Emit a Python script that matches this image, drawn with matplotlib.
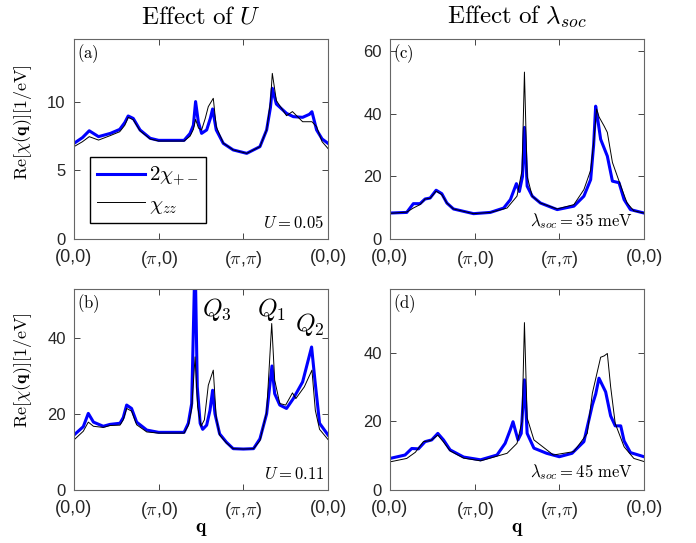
import matplotlib

matplotlib.use("Agg")

import matplotlib.pyplot as plt

plt.rcParams["mathtext.fontset"] = "cm"
plt.rcParams["font.family"] = ["Liberation Sans", "DejaVu Sans"]

# panel (a): U = 0.05
xa_pm = [0, 0.1, 0.18, 0.29, 0.43, 0.54, 0.60, 0.64, 0.70, 0.78, 0.90, 1.0, 1.15, 1.30, 1.37, 1.41,
         1.436, 1.468, 1.507, 1.567, 1.61, 1.637, 1.68, 1.763, 1.88, 2.04, 2.196, 2.275, 2.32, 2.342,
         2.39, 2.51, 2.59, 2.70, 2.78, 2.81, 2.865, 2.93, 3.0]
ya_pm = [6.98, 7.4, 7.9, 7.47, 7.71, 8.0, 8.5, 8.98, 8.8, 7.96, 7.35, 7.2, 7.2, 7.2, 7.7, 8.3,
         10.03, 8.56, 7.71, 7.96, 8.8, 9.49, 7.96, 6.98, 6.5, 6.25, 6.74, 7.96, 9.6, 11.0,
         9.85, 9.17, 8.93, 8.88, 9.1, 9.29, 7.96, 7.3, 6.98]
xa_zz = [0, 0.1, 0.18, 0.29, 0.43, 0.54, 0.60, 0.64, 0.70, 0.78, 0.90, 1.0, 1.3, 1.37, 1.41, 1.436,
         1.47, 1.507, 1.55, 1.586, 1.645, 1.68, 1.763, 1.88, 2.04, 2.196, 2.275, 2.32, 2.342, 2.39,
         2.51, 2.58, 2.70, 2.81, 2.865, 2.93, 3.0]
ya_zz = [6.74, 7.1, 7.47, 7.22, 7.55, 7.83, 8.3, 8.88, 8.7, 7.9, 7.3, 7.15, 7.15, 7.5, 8.0, 8.73,
         8.1, 7.96, 8.8, 9.66, 10.27, 8.2, 7.0, 6.5, 6.25, 6.74, 7.96, 10.0, 12.09, 10.1,
         9.0, 9.3, 8.56, 8.56, 8.2, 7.1, 6.6]

# panel (b): U = 0.11
xb_pm = [0, 0.11, 0.169, 0.23, 0.346, 0.425, 0.543, 0.582, 0.622, 0.68, 0.74, 0.86, 1.0, 1.3, 1.35,
         1.39, 1.43, 1.456, 1.49, 1.52, 1.567, 1.606, 1.637, 1.665, 1.72, 1.80, 1.88, 2.0, 2.12,
         2.196, 2.275, 2.338, 2.37, 2.43, 2.51, 2.59, 2.70, 2.806, 2.845, 2.90, 3.0]
yb_pm = [14.5, 16.7, 20.2, 17.9, 16.8, 17.3, 17.6, 19.1, 22.4, 21.5, 17.9, 15.8, 15.2, 15.2, 17.6,
         22.8, 62, 27.2, 17.6, 16.0, 17.1, 21.0, 26.3, 20.1, 14.8, 12.6, 10.9, 10.8, 10.9,
         13.5, 20.1, 32.7, 25.4, 22.4, 21.5, 24.1, 28.5, 37.7, 29.0, 17.6, 14.5]
xb_zz = [0, 0.11, 0.169, 0.23, 0.346, 0.425, 0.543, 0.582, 0.622, 0.68, 0.74, 0.86, 1.0, 1.3, 1.35,
         1.39, 1.43, 1.46, 1.50, 1.54, 1.586, 1.645, 1.68, 1.72, 1.80, 1.88, 2.0, 2.12, 2.196,
         2.275, 2.335, 2.37, 2.43, 2.50, 2.58, 2.62, 2.72, 2.81, 2.85, 2.90, 3.0]
yb_zz = [13.2, 15.5, 17.9, 16.8, 16.5, 17.0, 17.1, 18.5, 21.5, 20.8, 17.2, 15.3, 15.0, 15.0, 17.0,
         21.5, 35.1, 22.0, 16.8, 18.5, 27.6, 31.6, 19.0, 14.5, 12.4, 10.9, 10.8, 10.9, 13.0,
         20.5, 43.9, 29.0, 22.8, 22.4, 25.6, 24.1, 27.2, 31.6, 21.0, 16.0, 13.3]

# panel (c): lambda_soc = 35 meV
xc_pm = [0, 0.198, 0.276, 0.355, 0.415, 0.474, 0.545, 0.612, 0.672, 0.75, 0.987, 1.185, 1.343,
         1.422, 1.493, 1.528, 1.565, 1.588, 1.62, 1.68, 1.777, 1.975, 2.172, 2.29, 2.37, 2.405,
         2.429, 2.455, 2.488, 2.567, 2.627, 2.705, 2.765, 2.84, 3.0]
yc_pm = [8.3, 8.5, 11.3, 11.3, 12.8, 13.1, 15.6, 14.5, 11.5, 9.6, 8.1, 8.5, 9.9,
         12.6, 17.7, 15.2, 20.0, 35.7, 16.9, 13.7, 11.5, 9.4, 10.5, 13.7, 19.0, 30.0,
         42.5, 38.0, 31.9, 26.5, 18.5, 18.0, 12.6, 9.4, 8.3]
xc_zz = [0, 0.198, 0.276, 0.355, 0.415, 0.474, 0.545, 0.612, 0.672, 0.75, 0.987, 1.185, 1.383,
         1.5, 1.56, 1.588, 1.62, 1.68, 1.777, 1.975, 2.172, 2.29, 2.37, 2.41, 2.44, 2.47, 2.528,
         2.567, 2.627, 2.725, 2.80, 2.88, 3.0]
yc_zz = [8.2, 8.6, 9.9, 11.0, 12.8, 13.0, 15.3, 14.2, 11.5, 9.6, 8.1, 8.5, 9.9,
         13.7, 22.0, 53.4, 20.0, 13.7, 11.5, 9.6, 11.0, 15.8, 22.0, 32.0, 41.6, 39.0, 36.2,
         34.1, 24.5, 17.0, 11.5, 9.0, 8.3]

# panel (d): lambda_soc = 45 meV
xd_pm = [0, 0.178, 0.257, 0.336, 0.415, 0.493, 0.565, 0.632, 0.71, 0.87, 1.07, 1.264, 1.36, 1.42,
         1.453, 1.485, 1.512, 1.55, 1.588, 1.62, 1.7, 1.85, 2.0, 2.15, 2.29, 2.39, 2.43, 2.468,
         2.547, 2.606, 2.66, 2.725, 2.765, 2.84, 3.0]
yd_pm = [9.2, 10.2, 12.1, 12.0, 14.1, 14.6, 16.5, 14.6, 11.7, 9.6, 8.8, 10.2, 13.6, 17.5,
         19.9, 17.0, 14.6, 16.5, 32.1, 16.5, 12.2, 10.7, 9.7, 10.7, 14.1, 24.8, 28.0, 32.6,
         28.6, 21.6, 18.7, 18.7, 14.3, 10.9, 9.7]
xd_zz = [0, 0.198, 0.30, 0.395, 0.48, 0.565, 0.632, 0.71, 0.87, 1.07, 1.383, 1.5, 1.56, 1.588,
         1.62, 1.7, 1.93, 2.172, 2.33, 2.39, 2.488, 2.53, 2.567, 2.606, 2.66, 2.765, 2.88, 3.0]
yd_zz = [8.2, 9.2, 11.0, 14.1, 14.4, 16.0, 14.0, 11.4, 9.3, 8.5, 10.7, 13.6, 20.0, 48.8,
         21.0, 14.6, 10.2, 11.2, 16.5, 28.2, 38.7, 39.1, 39.8, 30.1, 19.4, 12.6, 9.2, 8.3]

q_ticks = [0, 1, 2, 3]
q_labels = ["(0,0)", r"($\pi$,0)", r"($\pi$,$\pi$)", "(0,0)"]

panels = [
    ("a", xa_pm, ya_pm, xa_zz, ya_zz, 14.6, [0, 5, 10], r"$U{=}0.05$"),
    ("b", xb_pm, yb_pm, xb_zz, yb_zz, 53, [0, 20, 40], r"$U{=}0.11$"),
    ("c", xc_pm, yc_pm, xc_zz, yc_zz, 64, [0, 20, 40, 60], r"$\lambda_{soc}{=}35\ \mathrm{meV}$"),
    ("d", xd_pm, yd_pm, xd_zz, yd_zz, 58.6, [0, 20, 40], r"$\lambda_{soc}{=}45\ \mathrm{meV}$"),
]
positions = {
    "a": [0.1063, 0.5599, 0.365, 0.3683],
    "b": [0.1063, 0.0976, 0.365, 0.3702],
    "c": [0.5603, 0.5599, 0.365, 0.3683],
    "d": [0.5603, 0.0976, 0.365, 0.3702],
}

fig = plt.figure(figsize=(6.96, 5.43), dpi=100)
axes = {}
for name, xpm, ypm, xzz, yzz, ytop, yticks, note in panels:
    ax = fig.add_axes(positions[name])
    axes[name] = ax
    ax.plot(xpm, ypm, color=(0, 0, 1), lw=2.2, label=r"$2\chi_{+-}$")
    ax.plot(xzz, yzz, color="black", lw=0.7, label=r"$\chi_{zz}$")
    ax.set_xlim(0, 3)
    ax.set_ylim(0, ytop)
    ax.set_xticks(q_ticks)
    ax.set_xticklabels(q_labels)
    ax.set_yticks(yticks)
    ax.tick_params(direction="in", top=True, right=True, length=4, width=0.6,
                   color="0.15", labelsize=12, labelcolor="0.15")
    ax.tick_params(axis="x", labelsize=13, pad=7)
    ax.tick_params(axis="y", pad=6)
    for sp in ax.spines.values():
        sp.set_color("0.4")
        sp.set_linewidth(0.8)
    ax.text(0.01, 0.985, r"$\mathrm{(%s)}$" % name, transform=ax.transAxes,
            ha="left", va="top", fontsize=12)
    ax.text(0.985 if name in "ab" else 0.955, 0.04, note, transform=ax.transAxes,
            ha="right", va="bottom", fontsize=12)

axes["a"].set_title(r"$\mathrm{Effect\ of}\ U$", fontsize=18, pad=11)
axes["c"].set_title(r"$\mathrm{Effect\ of}\ \lambda_{soc}$", fontsize=18, pad=11)

axes["a"].legend(loc="lower left", bbox_to_anchor=(0.063, 0.08), fontsize=15,
                 frameon=True, fancybox=False, edgecolor="black", framealpha=1,
                 handlelength=2.3, handletextpad=0.2, borderpad=0.35, labelspacing=0.3,
                 borderaxespad=0)

axes["b"].text(1.51, 46, r"$Q_3$", fontsize=18)
axes["b"].text(2.16, 46, r"$Q_1$", fontsize=18)
axes["b"].text(2.61, 42, r"$Q_2$", fontsize=18)

for name in ["b", "d"]:
    axes[name].set_xlabel(r"$\mathbf{q}$", fontsize=14, labelpad=0)

ylab = r"$\mathrm{Re}[\chi(\mathbf{q})][1/\mathrm{eV}]$"
fig.text(23 / 696, 1 - 122 / 543, ylab, rotation=90, ha="center", va="center", fontsize=13)
fig.text(23 / 696, 1 - 370 / 543, ylab, rotation=90, ha="center", va="center", fontsize=13)

fig.savefig("out.png", dpi=100)
